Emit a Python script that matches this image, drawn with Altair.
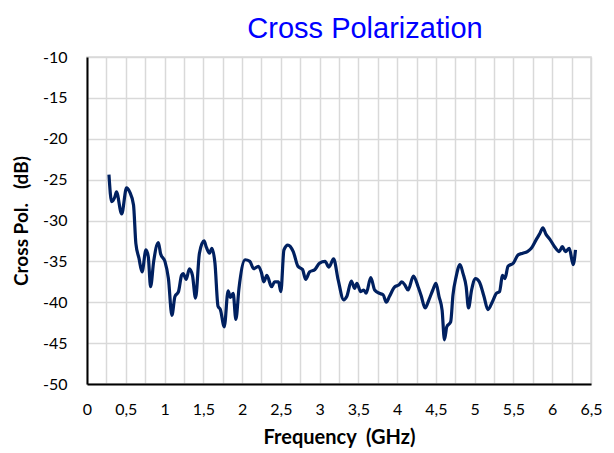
import altair as alt
import pandas as pd

freq = [0.283, 0.318, 0.36, 0.38, 0.447, 0.51, 0.55, 0.60, 0.63, 0.67, 0.71, 0.76, 0.79, 0.82, 0.86,
        0.92, 0.95, 1.005, 1.05, 1.095, 1.134, 1.18, 1.22, 1.24, 1.28, 1.32, 1.36, 1.40, 1.45, 1.51,
        1.54, 1.58, 1.61, 1.65, 1.69, 1.72, 1.77, 1.82, 1.85, 1.885, 1.92, 1.96, 2.04, 2.10, 2.15,
        2.21, 2.25, 2.28, 2.32, 2.38, 2.42, 2.47, 2.50, 2.54, 2.59, 2.66, 2.72, 2.78, 2.82, 2.87,
        2.94, 3.00, 3.07, 3.12, 3.18, 3.24, 3.31, 3.35, 3.41, 3.45, 3.48, 3.53, 3.57, 3.60, 3.66,
        3.71, 3.77, 3.82, 3.86, 3.90, 3.97, 4.02, 4.06, 4.10, 4.14, 4.21, 4.27, 4.31, 4.36, 4.41,
        4.46, 4.50, 4.54, 4.58, 4.61, 4.64, 4.69, 4.72, 4.76, 4.81, 4.85, 4.89, 4.92, 4.96, 5.01,
        5.06, 5.12, 5.17, 5.23, 5.28, 5.32, 5.36, 5.39, 5.43, 5.50, 5.56, 5.62, 5.68, 5.73, 5.79,
        5.84, 5.88, 5.92, 5.97, 6.03, 6.09, 6.13, 6.17, 6.22, 6.27, 6.30]
xpol = [-24.4, -27.7, -27.1, -26.5, -29.2, -26.0, -26.5, -28.1, -32.8, -34.6, -36.3, -33.6, -34.4, -38.1, -35.0,
        -32.7, -34.1, -35.0, -37.1, -41.6, -39.3, -38.7, -36.7, -36.5, -37.2, -35.9, -36.7, -39.5, -34.0, -32.5,
        -33.3, -34.0, -33.4, -35.2, -40.5, -40.9, -43.0, -38.6, -39.4, -38.9, -42.1, -38.3, -34.8, -35.0, -35.9,
        -35.6, -36.4, -37.5, -36.7, -38.1, -37.5, -37.5, -38.7, -33.6, -33.0, -33.8, -35.6, -36.0, -37.2, -36.3,
        -36.0, -35.2, -35.0, -35.7, -34.7, -37.3, -39.7, -39.3, -37.4, -38.3, -37.7, -38.7, -38.5, -38.9, -37.0,
        -38.5, -38.9, -39.1, -40.0, -39.3, -38.1, -37.9, -37.5, -37.9, -38.5, -36.8, -38.1, -39.2, -40.7, -39.7,
        -38.5, -37.7, -39.3, -41.0, -44.6, -43.0, -42.4, -39.1, -36.9, -35.4, -36.5, -38.1, -40.7, -38.5, -37.1,
        -37.5, -39.3, -40.9, -39.9, -38.9, -38.7, -36.7, -37.1, -35.6, -35.2, -34.2, -34.0, -33.8, -33.4, -32.4,
        -31.6, -30.9, -31.7, -32.3, -33.2, -33.8, -33.2, -33.8, -33.4, -35.4, -33.6]

x_ticks = [i * 0.25 for i in range(27)]
y_ticks = [-50, -45, -40, -35, -30, -25, -20, -15, -10]

df = pd.DataFrame({"f": freq, "v": xpol})

label_font = "Lato"
NB = "\u00a0"

chart = alt.Chart(df).mark_line(color="#002060", strokeWidth=3.2, interpolate="monotone").encode(
    x=alt.X("f:Q", scale=alt.Scale(domain=[0, 6.5], nice=False),
            axis=alt.Axis(values=x_ticks, title="Frequency" + NB + NB + "(GHz)", grid=True, gridColor="#d9d9d9",
                          gridWidth=1.5, ticks=False, domainColor="#000000", domainWidth=2,
                          labelExpr="(datum.value * 4) % 2 == 0 ? replace(toString(datum.value), '.', ',') : ''",
                          labelOverlap=False, labelFlush=False, labelFont=label_font, labelFontSize=16,
                          labelColor="#000000", labelPadding=17, titleFont=label_font, titleFontSize=20,
                          titleFontWeight="bold", titleColor="#000000", titlePadding=10)),
    y=alt.Y("v:Q", scale=alt.Scale(domain=[-50, -10], nice=False),
            axis=alt.Axis(values=y_ticks, title="Cross Pol." + NB + NB + NB + "(dB)", grid=True, gridColor="#d9d9d9",
                          gridWidth=1.5, ticks=False, domainColor="#000000", domainWidth=2,
                          labelExpr="toString(datum.value)", labelFlush=False,
                          labelFont=label_font, labelFontSize=16, labelColor="#000000", labelPadding=20,
                          titleFont=label_font, titleFontSize=19, titleFontWeight="bold",
                          titleColor="#000000", titlePadding=11)),
).properties(
    width=504, height=327,
    title=alt.TitleParams("Cross Polarization", color="#0000ff", font="Liberation Sans", fontSize=29,
                          fontWeight="normal", anchor="middle", dx=26, offset=5),
    autosize=alt.AutoSizeParams(type="none"),
    padding={"left": 79, "top": 49, "right": 15, "bottom": 66},
).configure_view(stroke="#d9d9d9", strokeWidth=1.5)

chart.save("out.html", embed_options={"renderer": "svg", "actions": False})
